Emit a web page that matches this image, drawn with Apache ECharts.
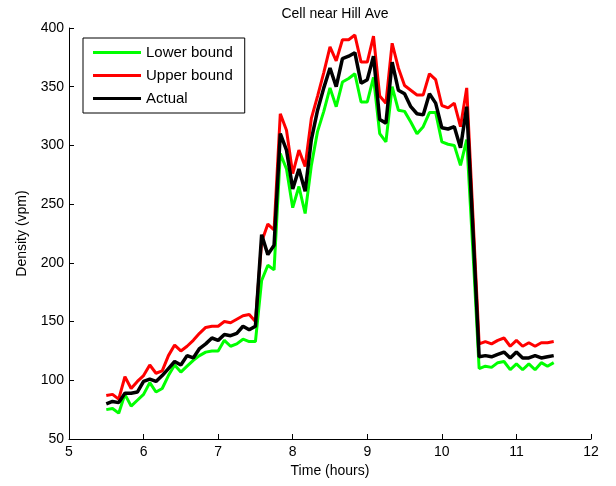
<!DOCTYPE html>
<html>
<head>
<meta charset="utf-8">
<title>Cell near Hill Ave</title>
<script src="https://cdn.jsdelivr.net/npm/echarts@6/dist/echarts.min.js"></script>
<style>
  html, body { margin: 0; padding: 0; background: #fff; }
  #main { width: 616px; height: 486px; }
</style>
</head>
<body>
<div id="main"></div>
<script>
// samples every 5 minutes from 5:30 to 11:30
var startHour = 5.5;
var stepHour = 1 / 12;

var lowerBound = [
  75, 76, 72, 88, 78, 83, 88, 98, 90, 93, 104, 113, 107, 112, 117, 121, 124, 125, 125, 134, 129, 131, 135, 133, 133,
  185, 198, 194, 293, 280, 247, 265, 242, 283, 312, 329, 349, 333, 354, 357, 361, 337, 337, 358, 310, 303, 350, 330,
  329, 320, 310, 316, 328, 328, 303, 301, 300, 283, 305, 210,
  110, 112, 111, 115, 116, 109, 114, 109, 114, 109, 115, 112, 115
];
var upperBound = [
  87, 88, 84, 103, 93, 99, 104, 113, 106, 108, 121, 130, 125, 129, 134, 140, 145, 146, 146, 150, 149, 152, 155, 156, 150,
  218, 233, 228, 327, 313, 276, 296, 282, 323, 342, 362, 384, 372, 390, 390, 394, 371, 371, 393, 342, 336, 387, 366,
  351, 347, 343, 343, 361, 356, 334, 332, 336, 316, 349, 240,
  131, 133, 131, 134, 136, 129, 134, 129, 132, 129, 132, 132, 133
];
var actual = [
  80, 82, 81, 89, 89, 90, 99, 101, 99, 104, 110, 116, 113, 121, 119, 127, 131, 136, 134, 139, 138, 140, 146, 143, 146,
  224, 207, 215, 310, 296, 263, 280, 261, 305, 330, 349, 366, 350, 374, 376, 379, 353, 356, 376, 322, 319, 371, 347,
  344, 333, 327, 326, 344, 336, 315, 314, 316, 298, 333, 228,
  120, 121, 120, 122, 124, 119, 124, 119, 119, 121, 119, 120, 121
];

function pairs(vals) {
  var out = [];
  for (var i = 0; i < vals.length; i++) {
    out.push([startHour + i * stepHour, vals[i]]);
  }
  return out;
}

var font = 'Liberation Sans, Arial, Helvetica, sans-serif';
var chart = echarts.init(document.getElementById('main'));

function lineSerie(name, color, vals, w) {
  return {
    name: name,
    type: 'line',
    data: pairs(vals),
    showSymbol: false,
    symbol: 'none',
    lineStyle: { color: color, width: w },
    itemStyle: { color: color },
    animation: false
  };
}

var option = {
  backgroundColor: '#fff',
  animation: false,
  title: {
    text: 'Cell near Hill Ave',
    left: 330,
    textAlign: 'center',
    top: 2,
    textStyle: { fontFamily: font, fontSize: 14, fontWeight: 'normal', color: '#000' }
  },
  legend: {
    left: 83,
    top: 38,
    orient: 'vertical',
    data: [
      { name: 'Lower bound', icon: 'rect' },
      { name: 'Upper bound', icon: 'rect' },
      { name: 'Actual', icon: 'rect' }
    ],
    itemWidth: 48,
    itemHeight: 3,
    itemGap: 8,
    padding: [7, 12, 7, 10],
    borderColor: '#000',
    borderWidth: 1,
    backgroundColor: '#fff',
    textStyle: { fontFamily: font, fontSize: 15, color: '#000' }
  },
  grid: { left: 69, right: 25, top: 28, bottom: 47 },
  xAxis: {
    type: 'value',
    min: 5,
    max: 12,
    interval: 1,
    name: 'Time (hours)',
    nameLocation: 'middle',
    nameGap: 24,
    nameTextStyle: { fontFamily: font, fontSize: 14, color: '#000' },
    axisLine: { show: true, lineStyle: { color: '#000', width: 1 } },
    axisTick: { show: true, inside: true, length: 5, lineStyle: { color: '#000' } },
    axisLabel: { fontFamily: font, fontSize: 14, color: '#000', margin: 6 },
    splitLine: { show: false }
  },
  yAxis: {
    type: 'value',
    min: 50,
    max: 400,
    interval: 50,
    name: 'Density (vpm)',
    nameLocation: 'middle',
    nameGap: 40,
    nameTextStyle: { fontFamily: font, fontSize: 14, color: '#000' },
    axisLine: { show: true, lineStyle: { color: '#000', width: 1 } },
    axisTick: { show: true, inside: true, length: 5, lineStyle: { color: '#000' } },
    axisLabel: { fontFamily: font, fontSize: 14, color: '#000', margin: 5 },
    splitLine: { show: false }
  },
  series: [
    lineSerie('Lower bound', '#00ff00', lowerBound, 3),
    lineSerie('Upper bound', '#ff0000', upperBound, 3),
    lineSerie('Actual', '#000000', actual, 3.5)
  ]
};

chart.setOption(option);
</script>
</body>
</html>
